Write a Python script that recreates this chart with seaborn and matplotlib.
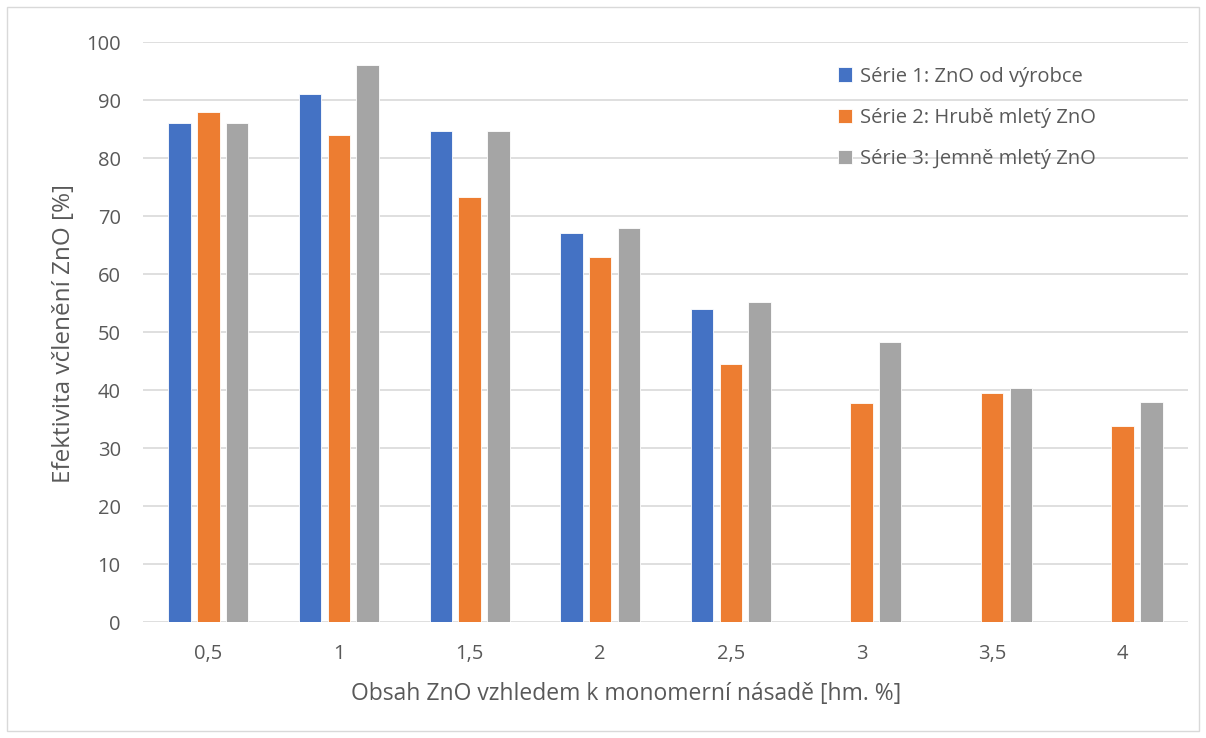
import numpy as np
import pandas as pd
import matplotlib.pyplot as plt
import seaborn as sns
from matplotlib.patches import Rectangle

# Datos
categories = ['0,5', '1', '1,5', '2', '2,5', '3', '3,5', '4']
serie1 = [86, 91, 84.7, 67, 54, np.nan, np.nan, np.nan]
serie2 = [88, 84, 73.3, 63, 44.4, 37.7, 39.4, 33.8]
serie3 = [86, 96, 84.7, 68, 55.2, 48.3, 40.3, 37.9]
series_names = ['Série 1: ZnO od výrobce', 'Série 2: Hrubě mletý ZnO', 'Série 3: Jemně mletý ZnO']

df = pd.DataFrame({'cat': categories, series_names[0]: serie1,
                   series_names[1]: serie2, series_names[2]: serie3})
df_long = df.melt(id_vars='cat', var_name='serie', value_name='val')

sns.set_theme(style='white')
plt.rcParams['font.family'] = ['Open Sans', 'DejaVu Sans']
text_col = '#595959'

fig = plt.figure(figsize=(12.06, 7.38), dpi=100)
ax = fig.add_axes([143 / 1206, 1 - 622 / 738, (1188 - 143) / 1206, (622 - 42) / 738])

sns.barplot(data=df_long, x='cat', y='val', hue='serie', order=categories,
            palette=['#4472C4', '#ED7D31', '#A5A5A5'], saturation=1,
            width=0.66, gap=0.22, edgecolor='white', linewidth=0.6, ax=ax, zorder=3)

ax.set_ylim(0, 100)
ax.set_yticks(range(0, 101, 10))
ax.set_xlim(-0.5, len(categories) - 0.5)
ax.grid(axis='y', color='#D9D9D9', linewidth=1.2, zorder=0)
for s in ax.spines.values():
    s.set_visible(False)
ax.tick_params(axis='both', length=0, colors=text_col, labelsize=14.5)
ax.tick_params(axis='y', pad=16)
ax.tick_params(axis='x', pad=16)
ax.set_xlabel('Obsah ZnO vzhledem k monomerní násadě [hm. %]', color=text_col,
              fontsize=16.5)
ax.xaxis.set_label_coords(0.462, -0.103)
ax.set_ylabel('Efektivita včlenění ZnO [%]', color=text_col, fontsize=17.5)
ax.yaxis.set_label_coords(-0.064, 0.497)

leg = ax.legend(loc='upper left', bbox_to_anchor=(0.6476, 0.989), frameon=False,
                fontsize=14.5, handlelength=0.7, handleheight=0.7, labelspacing=1.05,
                handletextpad=0.4)
for t in leg.get_texts():
    t.set_color(text_col)

fig.patches.append(Rectangle((7 / 1206, 7 / 738), 1 - 14 / 1206, 1 - 14 / 738,
                             transform=fig.transFigure, fill=False,
                             edgecolor='#D9D9D9', linewidth=1))

fig.savefig('out.png', dpi=100)
